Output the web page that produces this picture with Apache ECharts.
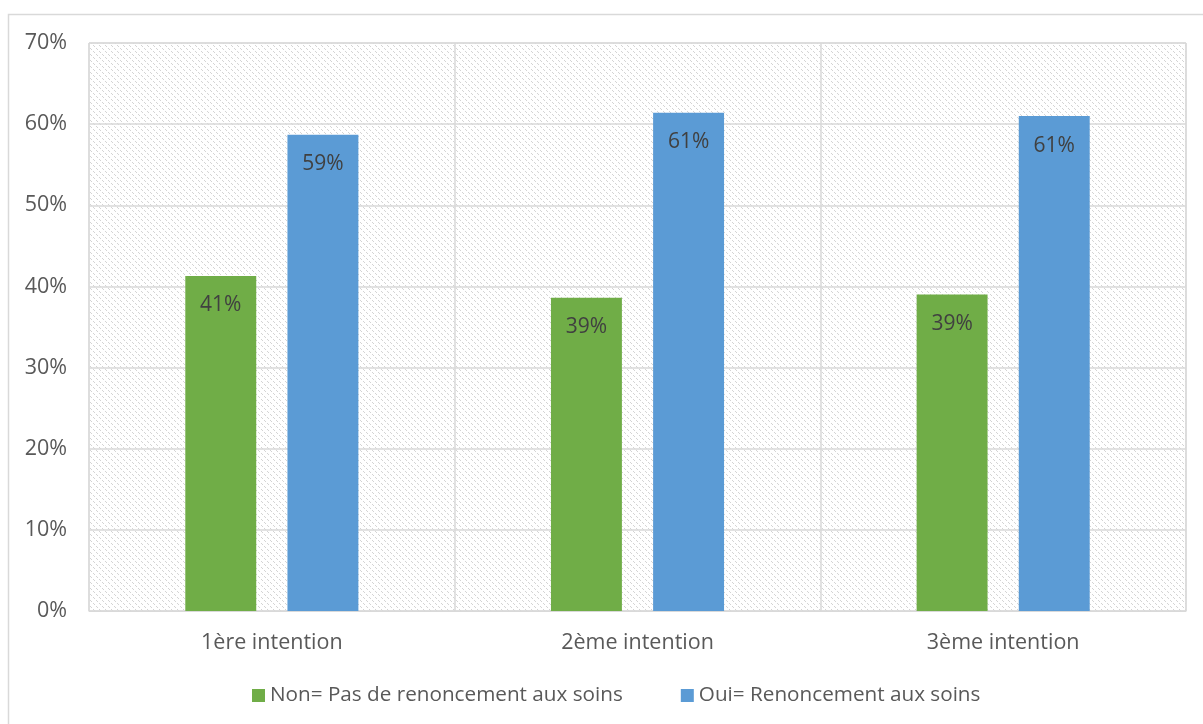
<!DOCTYPE html>
<html>
<head>
<meta charset="utf-8">
<script src="https://cdn.jsdelivr.net/npm/echarts@6/dist/echarts.min.js"></script>
<style>
  html, body { margin: 0; padding: 0; background: #fff; }
  #main { width: 1203px; height: 724px; }
</style>
</head>
<body>
<div id="main"></div>
<script>
// données
var categories = ['1ère intention', '2ème intention', '3ème intention'];
var nonValues = [41.3, 38.6, 39.0];
var ouiValues = [58.7, 61.4, 61.0];
var seriesNames = ['Non= Pas de renoncement aux soins', 'Oui= Renoncement aux soins'];

// motif hachuré du fond
function hatch() {
    var c = document.createElement('canvas');
    c.width = 6; c.height = 6;
    var ctx = c.getContext('2d');
    ctx.fillStyle = '#ffffff';
    ctx.fillRect(0, 0, 6, 6);
    ctx.fillStyle = '#d4d4d4';
    [[0, 0], [1, 1], [3, 3], [4, 4]].forEach(function (p) {
        ctx.fillRect(p[0], p[1], 1, 1);
    });
    return c;
}

var chart = echarts.init(document.getElementById('main'));
var font = '"Open Sans", "Noto Sans", sans-serif';

chart.setOption({
    animation: false,
    textStyle: { fontFamily: font },
    graphic: [{
        type: 'rect',
        shape: { x: 8.5, y: 14.5, width: 1220, height: 740 },
        style: { fill: 'none', stroke: '#d9d9d9', lineWidth: 1.5 },
        silent: true
    }],
    grid: {
        left: 89, right: 17, top: 43, bottom: 113,
        show: true,
        backgroundColor: { image: hatch(), repeat: 'repeat' },
        borderColor: '#d9d9d9', borderWidth: 1
    },
    legend: {
        bottom: 13,
        left: 247,
        icon: 'rect',
        itemWidth: 13, itemHeight: 13,
        itemGap: 58,
        textStyle: { color: '#595959', fontSize: 20.7, fontFamily: font },
        data: seriesNames
    },
    xAxis: {
        type: 'category',
        data: categories,
        axisLine: { show: true, lineStyle: { color: '#d9d9d9' } },
        axisTick: { show: false },
        splitLine: { show: true, interval: 0, lineStyle: { color: '#d9d9d9', width: 1.5 } },
        axisLabel: { color: '#595959', fontSize: 21.5, margin: 21 }
    },
    yAxis: {
        type: 'value',
        min: 0, max: 70, interval: 10,
        axisLine: { show: false },
        axisTick: { show: false },
        splitLine: { lineStyle: { color: '#d9d9d9', width: 1.5 } },
        axisLabel: { color: '#595959', fontSize: 21.5, margin: 22, formatter: '{value}%' }
    },
    series: [{
        name: seriesNames[0],
        type: 'bar',
        data: nonValues,
        barWidth: '19.4%',
        barGap: '44%',
        itemStyle: { color: '#70ad47' },
        label: {
            show: true, position: 'insideTop', distance: 19,
            color: '#404040', fontSize: 21,
            formatter: function (p) { return Math.round(p.value) + '%'; }
        }
    }, {
        name: seriesNames[1],
        type: 'bar',
        data: ouiValues,
        barWidth: '19.4%',
        itemStyle: { color: '#5b9bd5' },
        label: {
            show: true, position: 'insideTop', distance: 19,
            color: '#404040', fontSize: 21,
            formatter: function (p) { return Math.round(p.value) + '%'; }
        }
    }]
});

window.onresize = function () { chart.resize(); };
</script>
</body>
</html>
